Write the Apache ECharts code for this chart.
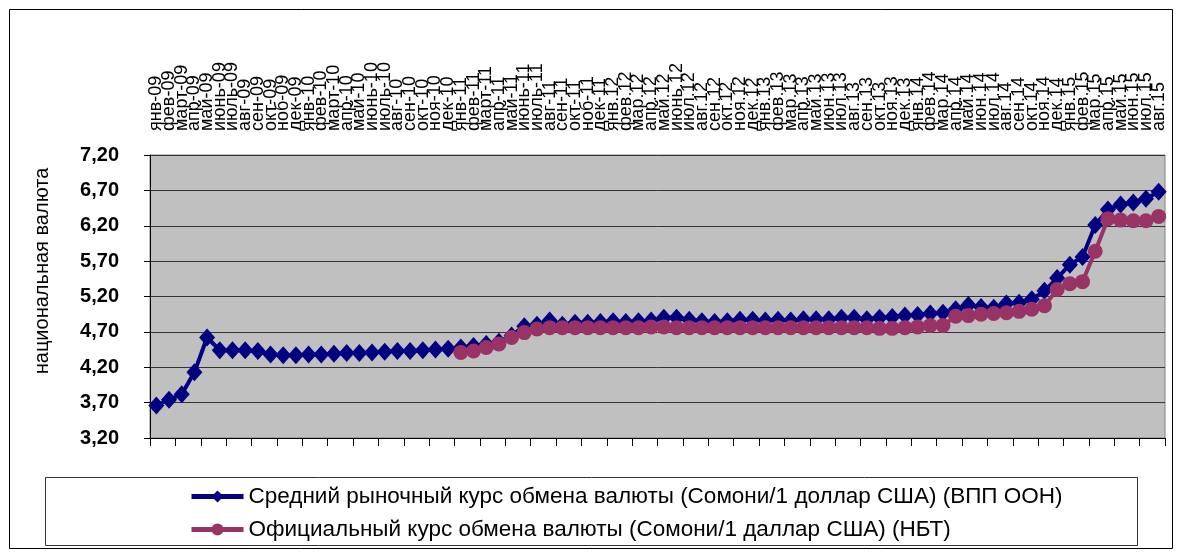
<!DOCTYPE html>
<html>
<head>
<meta charset="utf-8">
<script src="https://cdn.jsdelivr.net/npm/echarts@6/dist/echarts.min.js"></script>
<style>
html,body{margin:0;padding:0;background:#fff;}
#chart{width:1183px;height:554px;}
</style>
</head>
<body>
<div id="chart"></div>
<script>
var categories = [
 'янв-09','фев-09','март-09','апр-09','май-09','июнь-09','июль-09','авг-09','сен-09','окт-09','ноб-09','дек-09',
 'янв-10','фев-10','март-10','апр-10','май-10','июнь-10','июль-10','авг-10','сен-10','окт-10','ноя-10','дек-10',
 'янв-11','фев-11','март-11','апр-11','май-11','июнь-11','июль-11','авг-11','сен-11','окт-11','ноб-11','дек-11',
 'янв.12','фев.12','мар.12','апр.12','май.12','июнь.12','июл.12','авг.12','сен.12','окт.12','ноя.12','дек.12',
 'янв.13','фев.13','мар.13','апр.13','май.13','июн.13','июл.13','авг.13','сен.13','окт.13','ноя.13','дек.13',
 'янв.14','фев.14','мар.14','апр.14','май.14','июн.14','июл.14','авг.14','сен.14','окт.14','ноя.14','дек.14',
 'янв.15','фев.15','мар.15','апр.15','май.15','июн.15','июл.15','авг.15'
];
var marketRate = [
 3.66,3.74,3.82,4.13,4.62,4.44,4.44,4.44,4.43,4.38,4.37,4.37,
 4.38,4.38,4.39,4.40,4.40,4.41,4.42,4.43,4.43,4.44,4.45,4.46,
 4.48,4.50,4.53,4.56,4.65,4.78,4.80,4.86,4.80,4.83,4.83,4.84,
 4.85,4.84,4.85,4.86,4.90,4.90,4.87,4.85,4.84,4.85,4.87,4.87,
 4.86,4.87,4.86,4.88,4.88,4.88,4.90,4.90,4.88,4.90,4.91,4.93,
 4.94,4.96,4.97,5.02,5.08,5.05,5.04,5.10,5.11,5.16,5.28,5.46,
 5.65,5.76,6.21,6.43,6.50,6.53,6.58,6.68
];
var officialRate = [
 null,null,null,null,null,null,null,null,null,null,null,null,
 null,null,null,null,null,null,null,null,null,null,null,null,
 4.41,4.43,4.48,4.53,4.62,4.69,4.74,4.76,4.76,4.76,4.76,4.76,
 4.76,4.76,4.76,4.77,4.77,4.76,4.76,4.76,4.76,4.76,4.76,4.76,
 4.76,4.76,4.76,4.76,4.76,4.76,4.76,4.76,4.76,4.75,4.75,4.76,
 4.77,4.79,4.79,4.92,4.93,4.95,4.96,4.97,4.99,5.02,5.07,5.30,
 5.38,5.41,5.84,6.30,6.28,6.27,6.27,6.33
];
var yMin = 3.2, yMax = 7.2, yStep = 0.5;
var seriesNames = [
 'Средний рыночный курс обмена валюты (Сомони/1 доллар США) (ВПП ООН)',
 'Официальный курс обмена валюты (Сомони/1 даллар США) (НБТ)'
];
var yName = 'национальная валюта';

var chart = echarts.init(document.getElementById('chart'));
var FONT = 'Liberation Sans, Arial, sans-serif';
chart.setOption({
  backgroundColor: '#ffffff',
  animation: false,
  graphic: [
    {type:'rect', shape:{x:9.5,y:9.5,width:1163,height:539}, style:{fill:'none', stroke:'#000', lineWidth:1}, z:-10},
    {type:'rect', shape:{x:45.5,y:477.5,width:1092,height:68}, style:{fill:'#fff', stroke:'#333', lineWidth:1}, z:-5},
    {type:'text', x:42, y:271, rotation:Math.PI/2,
     style:{text:yName, fontFamily:FONT, fontSize:20, fill:'#000', textAlign:'center', textVerticalAlign:'middle'}}
  ],
  grid: {left:150, right:18, top:155, bottom:116, show:true, backgroundColor:'#C0C0C0', borderColor:'#808080', borderWidth:1},
  legend: {
    orient:'vertical', left:184, top:480, itemGap:10, itemWidth:52, itemHeight:15,
    lineStyle:{width:5},
    textStyle:{fontFamily:FONT, fontSize:22.5, color:'#000'},
    data: seriesNames
  },
  xAxis: [
    {type:'category', data:categories, position:'bottom', boundaryGap:true,
     axisLine:{show:true, lineStyle:{color:'#000', width:1}},
     axisTick:{show:true, interval:1, length:8, lineStyle:{color:'#000'}},
     axisLabel:{show:false}, splitLine:{show:false}},
    {type:'category', data:categories, position:'top', boundaryGap:true,
     axisLine:{show:false}, axisTick:{show:false},
     axisLabel:{show:true, interval:0, rotate:-90, margin:24, fontFamily:FONT, fontSize:18, color:'#000'},
     splitLine:{show:false}}
  ],
  yAxis: {
    type:'value', min:yMin, max:yMax, interval:yStep,
    axisLine:{show:true, lineStyle:{color:'#000'}},
    axisTick:{show:true, length:6, lineStyle:{color:'#000'}},
    axisLabel:{margin:31, fontFamily:FONT, fontSize:20, fontWeight:'bold', color:'#000',
      formatter:function(v){return v.toFixed(2).replace('.', ',');}},
    splitLine:{show:true, lineStyle:{color:'#333', width:1}}
  },
  series: [
    {name:seriesNames[0], type:'line', xAxisIndex:0, data:marketRate,
     symbol:'diamond', symbolSize:[16,18], showAllSymbol:true,
     lineStyle:{color:'#000080', width:4}, itemStyle:{color:'#000080'}},
    {name:seriesNames[1], type:'line', xAxisIndex:0, data:officialRate,
     symbol:'circle', symbolSize:15, showAllSymbol:true, connectNulls:false,
     lineStyle:{color:'#993366', width:4}, itemStyle:{color:'#993366'}}
  ]
});
</script>
</body>
</html>
